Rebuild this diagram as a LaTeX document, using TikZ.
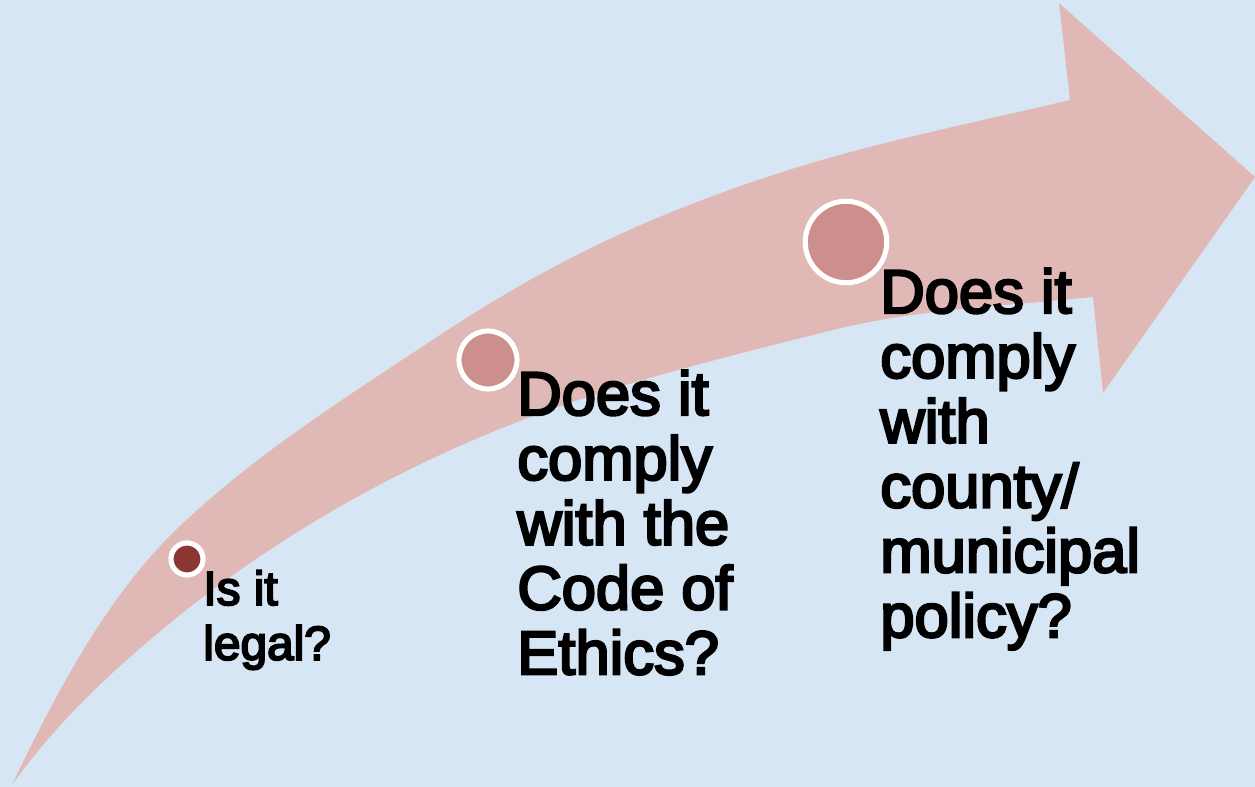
\documentclass[tikz,border=0pt]{standalone}
\usepackage{fontspec}
\setmainfont{Liberation Sans}[FakeBold=4]
\definecolor{sky}{HTML}{D7E6F5}
\definecolor{band}{HTML}{E0B9B6}
\definecolor{rose}{HTML}{CD8F8C}
\definecolor{wine}{HTML}{8C3634}
\tikzset{
  stop/.style={circle,draw=white,line width=2.9pt,inner sep=0pt},
  question/.style={anchor=north west,inner sep=0pt,align=left,text=black}
}
\begin{document}
\begin{tikzpicture}[x=0.02cm,y=-0.02cm]
  \fill[sky] (0,0) rectangle (1255,787);
  \useasboundingbox (0,0) rectangle (1255,787);
  % the curved arrow
  \fill[band] (12,785)
    .. controls (55,695) and (107,595) .. (180,526)
    .. controls (258,452) and (351,394) .. (440,335)
    .. controls (557,258) and (653,215) .. (767,177)
    .. controls (866,144) and (969,124) .. (1070,100)
    -- (1059,3) -- (1255,177) -- (1103,393) -- (1093,297)
    .. controls (1006,306) and (917,309) .. (833,330)
    .. controls (718,359) and (600,387) .. (490,433)
    .. controls (379,479) and (274,540) .. (180,615)
    .. controls (118,665) and (58,720) .. (12,785)
    -- cycle;
  % the three stops
  \node[stop,fill=wine,minimum size=0.64cm] (legal) at (187,559) {};
  \node[stop,fill=rose,minimum size=1.16cm] (ethics) at (488,360) {};
  \node[stop,fill=rose,minimum size=1.63cm] (policy) at (846,242) {};
  \node[question,font=\fontsize{27.2}{31.2}\selectfont] (legalq) at (203,570) {Is it\\legal?};
  \node[question,font=\fontsize{35}{36.9}\selectfont] (ethicsq) at (517,370) {Does it\\comply\\with the\\Code of\\Ethics?};
  \node[question,font=\fontsize{35}{36.9}\selectfont] (policyq) at (880,268) {Does it\\comply\\with\\county/\\municipal\\policy?};
\end{tikzpicture}
\end{document}
